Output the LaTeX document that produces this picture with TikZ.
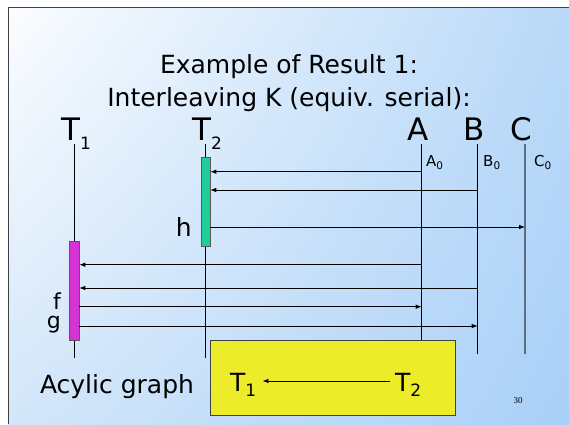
\documentclass[tikz,border=0pt]{standalone}
\usepackage{fontspec}
\setmainfont{DejaVu Sans}
\newfontfamily\pagenumfont{Liberation Serif}
\usetikzlibrary{arrows.meta, shadings}
\definecolor{bgTop}{HTML}{FBFDFF}
\definecolor{bgRight}{HTML}{B9D9F8}
\definecolor{bgLeft}{HTML}{D3E6F9}
\definecolor{bgBottom}{HTML}{A9D0F8}
\definecolor{barGreen}{HTML}{1FCC9A}
\definecolor{barMagenta}{HTML}{D633D6}
\definecolor{boxYellow}{HTML}{ECEC2A}
\definecolor{lineSlate}{HTML}{5A6F86}

\newcommand{\bigsize}{\fontsize{31}{36}\selectfont}
\newcommand{\midsize}{\fontsize{25}{30}\selectfont}
\newcommand{\fgsize}{\fontsize{22}{26}\selectfont}
\newcommand{\subsize}{\fontsize{17}{20}\selectfont}
\newcommand{\tinysize}{\fontsize{15}{18}\selectfont}
\newcommand{\tinysub}{\fontsize{10.5}{12}\selectfont}

\begin{document}
\begin{tikzpicture}[x=1pt,y=-1pt,
    lbl/.style={inner sep=0pt, anchor=base west},
    life/.style={line width=0.8pt},
    msg/.style={-{Latex[length=6pt,width=4.5pt]}, line width=0.8pt},
    bar/.style={draw=black!65, line width=0.6pt, inner sep=0pt}]
      \useasboundingbox (0,0) rectangle (569,424);

      % 1. background and frame
      \fill[white] (0,0) rectangle (569,424);
      \shade[upper left=bgTop, upper right=bgRight, lower left=bgLeft,
             lower right=bgBottom] (8,7) rectangle (569,424);
      \draw[black!75, line width=0.8pt] (8,424) -- (8,7) -- (569,7);

      % 2. title
      \node[anchor=base, inner sep=0pt] (head1) at (289,73) {\midsize Example of Result 1:};
      \node[anchor=base, inner sep=0pt] (head2) at (289,106) {\midsize Interleaving K (equiv. serial):};

      % 3. transactions and items
      \node[lbl] (T1) at (61,140) {\bigsize T\lower9pt\hbox{\subsize 1}};
      \node[lbl] (T2) at (192,140) {\bigsize T\lower9pt\hbox{\subsize 2}};
      \node[anchor=base, inner sep=0pt] (A) at (418,140.7) {\bigsize A};
      \node[anchor=base, inner sep=0pt] (B) at (474.5,140.7) {\bigsize B};
      \node[anchor=base, inner sep=0pt] (C) at (521.5,140.7) {\bigsize C};
      \node[lbl] (A0) at (426,166) {\tinysize A\lower3pt\hbox{\tinysub 0}};
      \node[lbl] (B0) at (483,166) {\tinysize B\lower3pt\hbox{\tinysub 0}};
      \node[lbl] (C0) at (534,166) {\tinysize C\lower3pt\hbox{\tinysub 0}};

      % 4. lifelines
      \coordinate (l1) at (74,144);   \coordinate (l1b) at (74,358);
      \coordinate (l2) at (205.5,144); \coordinate (l2b) at (205.5,358);
      \coordinate (lA) at (421.7,144); \coordinate (lAb) at (421.7,360);
      \coordinate (lB) at (477.7,144); \coordinate (lBb) at (477.7,354);
      \coordinate (lC) at (525,144);   \coordinate (lCb) at (525,354);
      \draw[life] (l1) -- (l1b);
      \draw[life] (l2) -- (l2b);
      \draw[life] (lA) -- (lAb);
      \draw[life] (lB) -- (lBb);
      \draw[lineSlate, line width=1.3pt] (lC) -- (lCb);

      % 5. the two bars
      \node[bar, fill=barGreen, minimum width=9pt, minimum height=89pt] (bar2) at (205.5,201.5) {};
      \node[bar, fill=barMagenta, minimum width=10pt, minimum height=99pt] (bar1) at (74,290.5) {};

      % 6. reads and writes
      \draw[msg] (lA |- 0,171.7) -- (bar2.east |- 0,171.7);
      \draw[msg] (lB |- 0,190) -- (bar2.east |- 0,190);
      \draw[msg] (bar2.east |- 0,227) -- (lC |- 0,227);
      \draw[msg] (lA |- 0,264.7) -- (bar1.east |- 0,264.7);
      \draw[msg] (lB |- 0,288) -- (bar1.east |- 0,288);
      \draw[msg] (bar1.east |- 0,306.7) -- (lA |- 0,306.7);
      \draw[msg] (bar1.east |- 0,326) -- (lB |- 0,326);
      \node[anchor=base east, inner sep=0pt] (h) at (192,236) {\midsize h};
      \node[anchor=base east, inner sep=0pt] (f) at (61,309) {\fgsize f};
      \node[anchor=base east, inner sep=0pt] (g) at (61,328) {\fgsize g};

      % 7. acyclic graph box
      \node[anchor=base, inner sep=0pt] (acy) at (117,393) {\midsize Acylic graph};
      \draw[black!75, fill=boxYellow, line width=0.8pt] (210,340) rectangle (455,415);
      \node[lbl] (g1) at (230,391) {\midsize T\lower5pt\hbox{\subsize 1}};
      \node[lbl] (g2) at (395,391) {\midsize T\lower5pt\hbox{\subsize 2}};
      \draw[msg] ([xshift=-5pt]g2.west |- 0,381) -- ([xshift=6pt]g1.east |- 0,381);

      \node[inner sep=0pt] (pg) at (518,401) {\pagenumfont\fontsize{9}{10}\selectfont 30};
    \end{tikzpicture}
\end{document}
